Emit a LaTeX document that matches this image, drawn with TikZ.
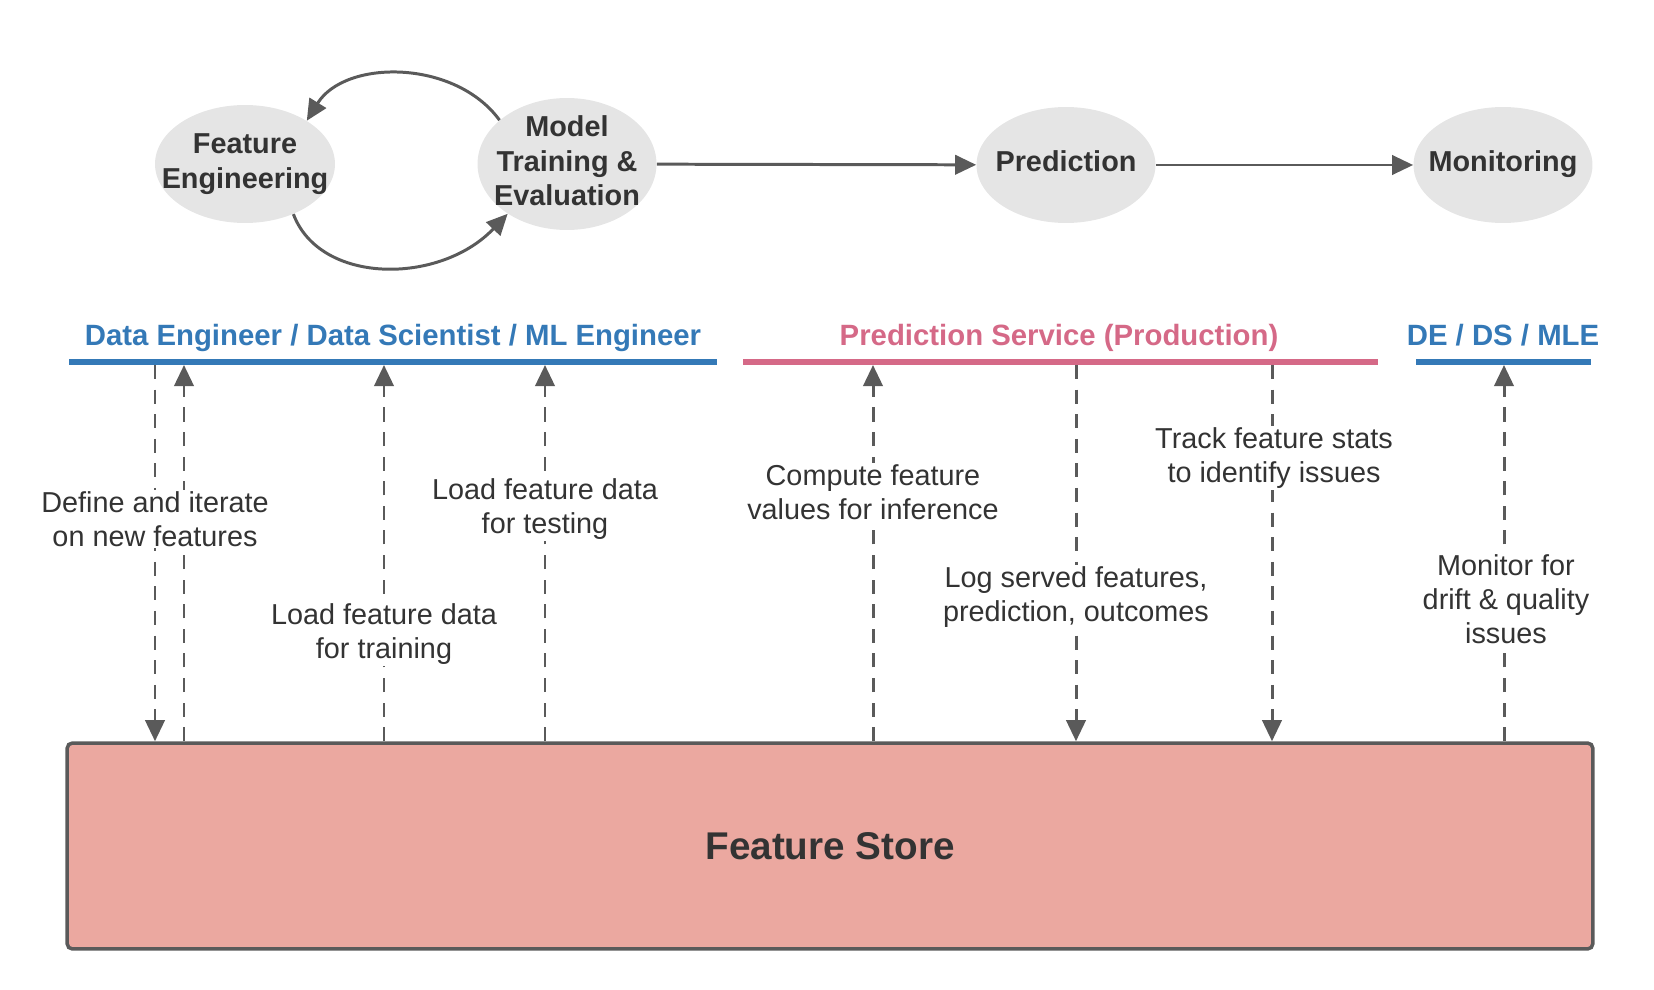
\documentclass[tikz,border=0pt]{standalone}
\usepackage{fontspec}
\setmainfont{Liberation Sans}
\usetikzlibrary{arrows.meta,positioning,shapes.geometric}
\definecolor{deblue}{HTML}{3479B7}
\definecolor{prodpink}{HTML}{D56987}
\definecolor{storefill}{HTML}{EBA8A0}
\definecolor{stagefill}{HTML}{E5E5E5}
\definecolor{inkgray}{HTML}{333333}
\definecolor{arrowgray}{HTML}{5A5A5A}

\begin{document}
\begin{tikzpicture}[x=0.02cm,y=-0.02cm,
		stage/.style={ellipse,fill=stagefill,minimum width=3.58cm,minimum height=2.32cm,inner sep=0pt},
		stagetext/.style={font=\fontsize{16.4}{19.7}\selectfont\bfseries,text=inkgray,align=center},
		flow/.style={draw=arrowgray,line width=1.7pt,-{Triangle[length=12pt,width=11pt]}},
		dflow/.style={flow,dash pattern=on 8pt off 6pt},
		role/.style={font=\fontsize{16.7}{20}\selectfont\bfseries,anchor=base},
		bar/.style={line width=3.4pt},
		note/.style={font=\fontsize{16.4}{19.5}\selectfont,text=inkgray,align=center,fill=white,inner sep=1pt}]
	\useasboundingbox (0,0) rectangle (1654,990);
	% pipeline stages
	\node[stage,minimum width=3.6cm,minimum height=2.36cm,label={[stagetext]center:{Feature\\Engineering}}] (fe) at (245,164) {};
	\node[stage,minimum height=2.64cm,label={[stagetext,yshift=1.8pt]center:{Model\\Training \&\\Evaluation}}] (mt) at (567,164) {};
	\node[stage,label={[stagetext,text height=1.6ex,text depth=.3ex]center:Prediction}] (pred) at (1066,165) {};
	\node[stage,label={[stagetext,text height=1.6ex,text depth=.3ex]center:Monitoring}] (mon) at (1503,165) {};
	\draw[flow] (mt.147) .. controls (455,59) and (345,59) .. (fe.35);
	\draw[flow] (fe.-46) .. controls (320,285) and (440,285) .. (mt.220);
	\draw[flow] (mt) -- (pred);
	\draw[flow] (pred) -- (mon);
	% roles
	\node[role,text=deblue] (ds) at (393,345) {Data Engineer / Data Scientist / ML Engineer};
	\node[role,text=prodpink] (ps) at (1059,345) {Prediction Service (Production)};
	\node[role,text=deblue] (mle) at (1503,345) {DE / DS / MLE};
	\draw[bar,deblue] (69,362) -- (717,362);
	\draw[bar,prodpink] (743,362) -- (1378,362);
	\draw[bar,deblue] (1416,362) -- (1591,362);
	% feature store
	\node[draw=arrowgray,line width=2pt,fill=storefill,rounded corners=3pt,minimum width=30.52cm,minimum height=4.12cm,
		font=\fontsize{22}{26}\selectfont\bfseries,text=inkgray] (store) at (830,846) {Feature Store};
	\coordinate (ta) at (155,365);
	\coordinate (tb) at (184,365);
	\coordinate (tc) at (384,365);
	\coordinate (td) at (545,365);
	\coordinate (te) at (873,365);
	\coordinate (tf) at (1076,365);
	\coordinate (tg) at (1272,365);
	\coordinate (th) at (1504,365);
	\draw[dflow] (ta) -- (ta |- store.north);
	\draw[dflow] (tb |- store.north) -- (tb);
	\draw[dflow] (tc |- store.north) -- (tc);
	\draw[dflow] (td |- store.north) -- (td);
	\draw[dflow] (te |- store.north) -- (te);
	\draw[dflow] (tf) -- (tf |- store.north);
	\draw[dflow] (tg) -- (tg |- store.north);
	\draw[dflow] (th |- store.north) -- (th);
	% labels on the flows
	\node[note] (n1) at (155,519) {Define and iterate\\on new features};
	\node[note] (n2) at (384,634) {Load feature data\\for training};
	\node[note] (n3) at (545,509) {Load feature data\\for testing};
	\node[note] (n4) at (873,492) {Compute feature\\values for inference};
	\node[note] (n5) at (1076,597) {Log served features,\\prediction, outcomes};
	\node[note] (n6) at (1274,458) {Track feature stats\\to identify issues};
	\node[note] (n7) at (1506,599) {Monitor for\\drift \& quality\\issues};
\end{tikzpicture}
\end{document}
